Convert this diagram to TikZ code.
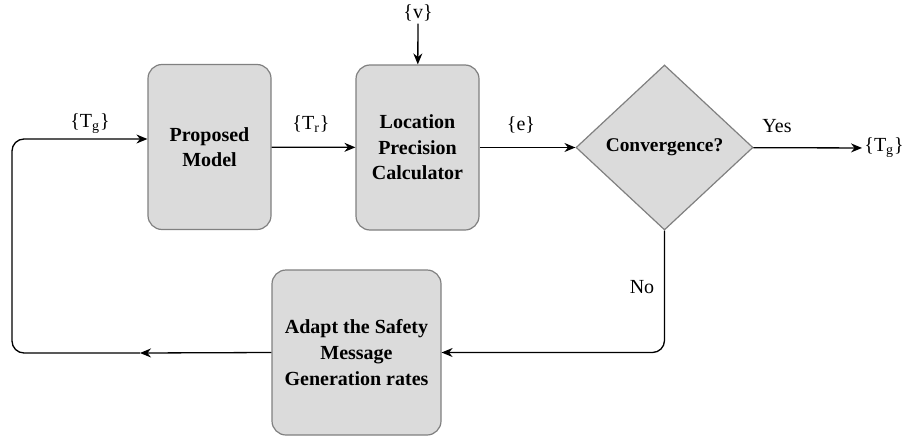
\documentclass[tikz,border=0pt]{standalone}
\usepackage{fontspec}
\setmainfont{Liberation Serif}
\usetikzlibrary{shapes.geometric,arrows.meta,positioning,calc}

\tikzset{
  block/.style={draw=black!50, fill=black!14, rounded corners=7pt, line width=0.6pt,
    align=center, font=\bfseries\fontsize{10}{12.8}\selectfont, inner sep=1pt},
  decision/.style={diamond, draw=black!50, fill=black!14, line width=0.6pt,
    minimum width=88.5pt, minimum height=82.5pt, inner sep=0pt, font=\bfseries\fontsize{9.7}{12}\selectfont},
  flow/.style={-{Stealth[length=5.5pt,width=4.5pt]}, line width=0.65pt},
  lbl/.style={font=\normalsize, inner sep=1pt}
}

\begin{document}
\begin{tikzpicture}[x=0.5pt, y=-0.5pt]
      \useasboundingbox (0,0) rectangle (909,439);

      \node[block, minimum width=61.5pt, minimum height=82.5pt] (model) at (209.5,147) {Proposed\\Model};
      \node[block, minimum width=61.5pt, minimum height=82.5pt] (calc) at (417.5,147.5) {Location\\Precision\\Calculator};
      \node[decision] (conv) at (664.5,147.5) {Convergence?};
      \node[block, minimum width=84.5pt, minimum height=82.5pt] (adapt) at (356.5,352.5) {Adapt the Safety\\Message\\Generation rates};

      \node[lbl] (v) at (418,13) {\{v\}};
      \node[lbl] (tgin) at (90,124) {\{T\textsubscript{g}\}};
      \node[lbl] (tr) at (311,124) {\{T\textsubscript{r}\}};
      \node[lbl] (e) at (521,125) {\{e\}};
      \node[lbl] (yes) at (777,126) {Yes};
      \node[lbl, anchor=west] (tgout) at (862,148) {\{T\textsubscript{g}\}};
      \node[lbl] (no) at (642,287) {No};

      \coordinate (back) at (140,353);

      \draw[flow] (v) -- (calc);
      \draw[flow] (model) -- (calc);
      \draw[flow] (calc) -- (conv);
      \draw[flow] (conv) -- (tgout);
      \draw[flow, rounded corners=6pt] (conv.south) |- (adapt.east);
      \draw[flow] (adapt.west) -- (back);
      \draw[flow, rounded corners=6pt] (back) -- (12,353) -- (12,139) -- ([yshift=4pt]model.west);
    \end{tikzpicture}
\end{document}
